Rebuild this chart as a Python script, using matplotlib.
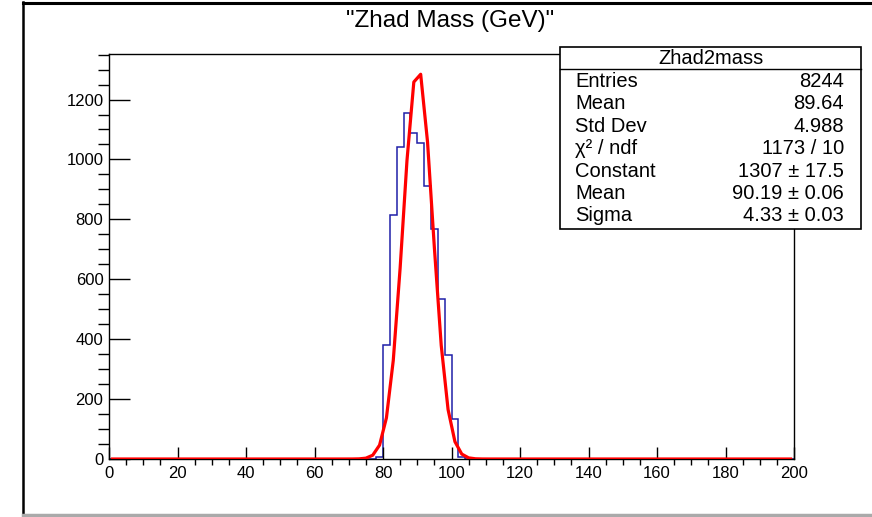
import numpy as np
import matplotlib
matplotlib.use("Agg")
import matplotlib.pyplot as plt
from matplotlib.lines import Line2D
from matplotlib.patches import Rectangle
from matplotlib.ticker import MultipleLocator

plt.rcParams['font.family'] = ['Liberation Sans', 'DejaVu Sans']

W, H = 872, 517

# histogram: 100 bins of 2 GeV over [0, 200], only these bins are filled
n_bins = 100
x_min, x_max = 0, 200
first_filled = 78
filled_counts = [7, 380, 814, 1040, 1156, 1087, 1056, 911, 768, 534, 348, 132, 6]

# gaussian fit parameters (from the stats box)
fit_const = 1307
fit_mean = 90.19
fit_sigma = 4.33

stats_title = "Zhad2mass"
stats_names = ["Entries", "Mean", "Std Dev", "\u03c7\u00b2 / ndf", "Constant", "Mean", "Sigma"]
stats_values = ["8244", "89.64", "4.988", "1173 / 10", "1307 \u00b1 17.5", "90.19 \u00b1 0.06", "4.33 \u00b1 0.03"]

edges = np.linspace(x_min, x_max, n_bins + 1)
counts = np.zeros(n_bins)
i0 = int((first_filled - x_min) / (edges[1] - edges[0]))
counts[i0:i0 + len(filled_counts)] = filled_counts
centers = 0.5 * (edges[:-1] + edges[1:])
fit_y = fit_const * np.exp(-0.5 * ((centers - fit_mean) / fit_sigma) ** 2)

fig = plt.figure(figsize=(W / 100, H / 100), dpi=100)
ax = fig.add_axes([109 / W, 1 - 459 / H, (794 - 109) / W, (459 - 54) / H])

ax.stairs(counts, edges, color='#1f1fa8', linewidth=1.1)
ax.plot(centers, fit_y, color='#ff0000', linewidth=2.3, zorder=3)

ax.set_xlim(x_min, x_max)
ax.set_ylim(0, 1352)
ax.xaxis.set_major_locator(MultipleLocator(20))
ax.xaxis.set_minor_locator(MultipleLocator(5))
ax.yaxis.set_major_locator(MultipleLocator(200))
ax.yaxis.set_minor_locator(MultipleLocator(50))
ax.tick_params(axis='both', direction='in', labelsize=12, top=False, right=False)
ax.tick_params(axis='x', which='major', length=8.5, width=1, pad=5)
ax.tick_params(axis='x', which='minor', length=4.3, width=1)
ax.tick_params(axis='y', which='major', length=15, width=1, pad=4)
ax.tick_params(axis='y', which='minor', length=8, width=1)
for sp in ax.spines.values():
    sp.set_linewidth(1)

fig.text(450 / W, 1 - 21 / H, '"Zhad Mass (GeV)"', ha='center', va='center', fontsize=17.5)

# stats box
bx0, bx1, by0, by1 = 560, 861, 47, 229
fig.add_artist(Rectangle((bx0 / W, 1 - by1 / H), (bx1 - bx0) / W, (by1 - by0) / H,
                         transform=fig.transFigure, facecolor='white', edgecolor='black',
                         linewidth=1.2, zorder=5))
fig.add_artist(Line2D([bx0 / W, bx1 / W], [1 - 68.5 / H, 1 - 68.5 / H],
                      transform=fig.transFigure, color='black', linewidth=1, zorder=6))
fig.text((bx0 + bx1) / 2 / W, 1 - 58.5 / H, stats_title, ha='center', va='center',
         fontsize=14.5, zorder=7)
row_y = [81.5, 103.5, 126, 148, 171.5, 193.5, 215.5]
for name, val, ry in zip(stats_names, stats_values, row_y):
    fig.text(575 / W, 1 - ry / H, name, ha='left', va='center', fontsize=14.5, zorder=7)
    fig.text(844 / W, 1 - ry / H, val, ha='right', va='center', fontsize=14.5, zorder=7)

# canvas border
fig.add_artist(Line2D([23 / W, 23 / W], [0, 1 - 2 / H], transform=fig.transFigure,
                      color='black', linewidth=1.8))
fig.add_artist(Line2D([23 / W, 1], [1 - 2.5 / H, 1 - 2.5 / H], transform=fig.transFigure,
                      color='black', linewidth=2.2))
fig.add_artist(Line2D([23 / W, 1], [1 - 515 / H, 1 - 515 / H], transform=fig.transFigure,
                      color='#aaaaaa', linewidth=2.5))

fig.savefig("out.png", dpi=100)
